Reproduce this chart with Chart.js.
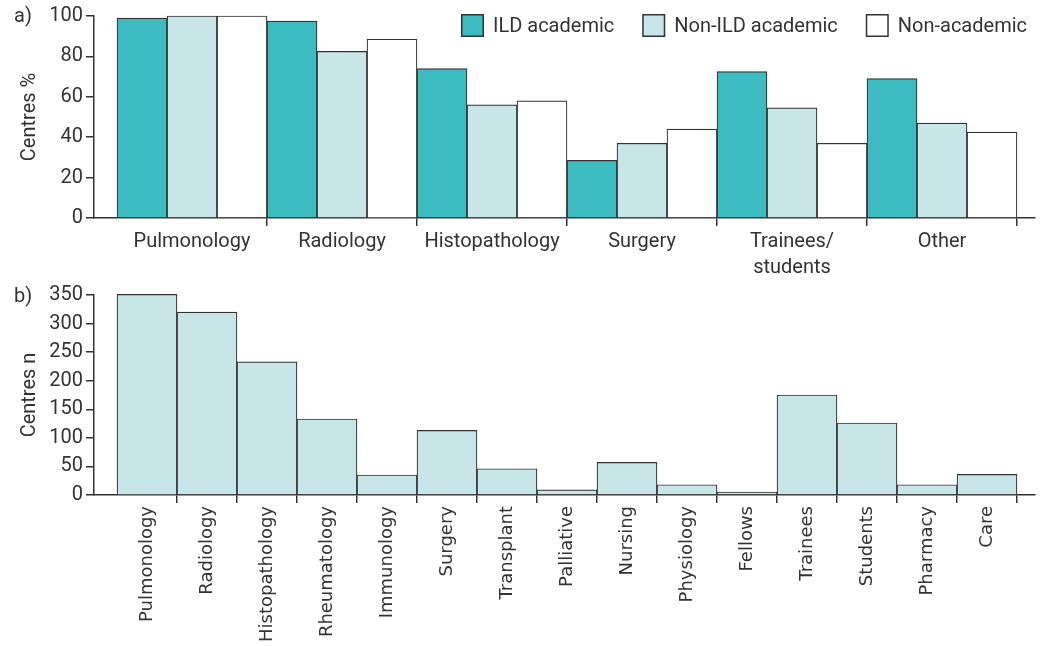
<!DOCTYPE html>
<html lang="en">
<head>
  <meta charset="UTF-8">
  <title>ILD centres by specialty</title>
  <script src="https://cdn.jsdelivr.net/npm/chart.js"></script>
  <style>
    body { margin: 0; background: #fff; font-family: Roboto, sans-serif; }
    .wrap { position: relative; width: 1043px; height: 646px; }
    .panel { position: absolute; left: 0; }
    .tag { position: absolute; left: 14px; font-size: 20px; color: #333; line-height: 24px; }
  </style>
</head>
<body>
<div class="wrap">
  <canvas id="chartA" class="panel" style="top:0" width="1043" height="280"></canvas>
  <canvas id="chartB" class="panel" style="top:280px" width="1043" height="366"></canvas>
  <div class="tag" style="top:3px">a)</div>
  <div class="tag" style="top:283px">b)</div>
</div>
<script>
  // panel a) - % of centres, by centre type
  const groupLabels = ['Pulmonology', 'Radiology', 'Histopathology', 'Surgery', ['Trainees/', 'students'], 'Other'];
  const ildAcademic = [99, 97.5, 74, 28.5, 72.5, 69];
  const nonIldAcademic = [100, 82.5, 56, 37, 54.5, 47];
  const nonAcademic = [100, 88.5, 58, 44, 37, 42.5];

  // panel b) - number of centres
  const specialtyLabels = ['Pulmonology', 'Radiology', 'Histopathology', 'Rheumatology', 'Immunology', 'Surgery',
    'Transplant', 'Palliative', 'Nursing', 'Physiology', 'Fellows', 'Trainees', 'Students', 'Pharmacy', 'Care'];
  const centresN = [351, 320, 233, 133, 35, 113, 46, 9, 57, 18, 5, 175, 126, 18, 36];

  const INK = '#333';
  const TEAL = '#3cbcc1';
  const PALE = '#c8e6e8';

  Chart.defaults.font.family = 'Roboto';
  Chart.defaults.font.size = 20;
  Chart.defaults.color = INK;

  // leave a gap between the y axis and the first bar (and after the last one)
  const padCategories = (padL, padR) => axis => {
    const n = axis.getLabels().length;
    const range = n / (1 - padL - padR);
    axis._valueRange = range;
    axis._startValue = -0.5 - padL * range;
  };

  // legend drawn across the top right of the plot
  const cornerLegend = {
    id: 'cornerLegend',
    afterDraw(chart, args, opts) {
      const ctx = chart.ctx;
      ctx.save();
      ctx.font = '20px Roboto';
      ctx.textBaseline = 'middle';
      let x = opts.right;
      chart.data.datasets.slice().reverse().forEach(ds => {
        const w = ctx.measureText(ds.label).width;
        x -= w;
        ctx.fillStyle = INK;
        ctx.fillText(ds.label, x, opts.top + opts.box / 2 + 1);
        x -= opts.box + 9;
        ctx.fillStyle = ds.backgroundColor;
        ctx.fillRect(x, opts.top, opts.box, opts.box);
        ctx.strokeStyle = INK;
        ctx.lineWidth = 1.5;
        ctx.strokeRect(x + 0.75, opts.top + 0.75, opts.box - 1.5, opts.box - 1.5);
        x -= opts.gap;
      });
      ctx.restore();
    }
  };

  const barStyle = { borderColor: INK, borderWidth: 1.2, barPercentage: 1, categoryPercentage: 1, clip: false };

  const yAxis = (max, step, title, width) => ({
    min: 0, max: max,
    afterFit: s => { s.width = width; },
    ticks: { stepSize: step, color: INK, padding: 3 },
    grid: { drawOnChartArea: false, tickLength: 8, color: INK, lineWidth: 1.5 },
    border: { color: INK, width: 1.5 },
    title: { display: true, text: title, color: INK, font: { size: 20 }, padding: { top: 18, bottom: 0 } }
  });

  new Chart(document.getElementById('chartA'), {
    type: 'bar',
    data: {
      labels: groupLabels,
      datasets: [
        { label: 'ILD academic', data: ildAcademic, backgroundColor: TEAL, ...barStyle },
        { label: 'Non-ILD academic', data: nonIldAcademic, backgroundColor: PALE, ...barStyle },
        { label: 'Non-academic', data: nonAcademic, backgroundColor: '#ffffff', ...barStyle }
      ]
    },
    options: {
      responsive: false,
      animation: false,
      devicePixelRatio: 1,
      layout: { padding: { top: 16, right: 8, left: 0, bottom: 0 } },
      plugins: {
        legend: { display: false },
        tooltip: { enabled: false },
        cornerLegend: { right: 1027, top: 14, box: 23, gap: 28 }
      },
      scales: {
        x: {
          afterBuildTicks: padCategories(23 / 941, 18 / 941),
          afterFit: s => { s.height = 62; },
          grid: { drawOnChartArea: false, tickLength: 8, lineWidth: 1.5,
                  color: ctx => ctx.index === 0 ? 'rgba(0,0,0,0)' : INK },
          border: { color: INK, width: 1.5 },
          ticks: { color: INK, font: { size: 20, lineHeight: 1.3 }, maxRotation: 0, autoSkip: false, padding: 3 }
        },
        y: yAxis(100, 20, 'Centres %', 94)
      }
    },
    plugins: [cornerLegend]
  });

  new Chart(document.getElementById('chartB'), {
    type: 'bar',
    data: {
      labels: specialtyLabels,
      datasets: [
        { label: 'Centres', data: centresN, backgroundColor: PALE, ...barStyle }
      ]
    },
    options: {
      responsive: false,
      animation: false,
      devicePixelRatio: 1,
      layout: { padding: { top: 13, right: 8, left: 0, bottom: 0 } },
      plugins: { legend: { display: false }, tooltip: { enabled: false } },
      scales: {
        x: {
          afterBuildTicks: padCategories(23 / 941, 18 / 941),
          afterFit: s => { s.height = 151; },
          grid: { drawOnChartArea: false, tickLength: 8, lineWidth: 1.5,
                  color: ctx => (ctx.index === 0 || ctx.index === specialtyLabels.length) ? 'rgba(0,0,0,0)' : INK },
          border: { color: INK, width: 1.5 },
          ticks: { color: INK, font: { family: 'DejaVu Sans', size: 18 }, minRotation: 90, maxRotation: 90,
                   autoSkip: false, padding: 3 }
        },
        y: yAxis(350, 50, 'Centres n', 94)
      }
    }
  });
</script>
</body>
</html>
